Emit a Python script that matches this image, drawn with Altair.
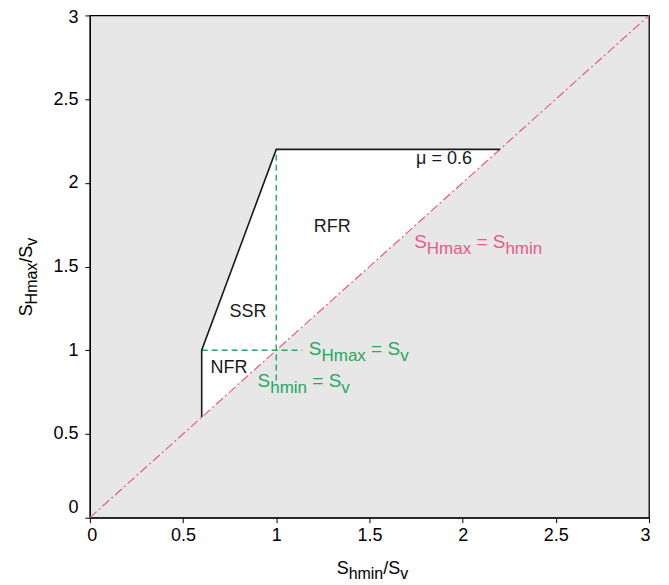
import altair as alt
import pandas as pd

FONT = "Liberation Sans"
PINK = "#eb5a84"
GREEN = "#22aa5e"
BG = "#e6e7e6"
INK = "#1a1a1a"

# ---- data ----
ticks = [0, 0.5, 1, 1.5, 2, 2.5, 3]

poly_x = [0.6, 1.0, 2.2]
poly_upper = [1.0, 2.2, 2.2]
poly_lower = [0.6, 1.0, 2.2]

outline_x = [0.6, 0.6, 1.0, 2.2]
outline_y = [0.6, 1.0, 2.2, 2.2]

diag_x = [0, 3]
diag_y = [0, 3]

vline_x = [1.0]
vline_y = [0.82]
vline_y2 = [2.2]
hline_y = [1.0]
hline_x = [0.6]
hline_x2 = [1.14]

region_text = ["RFR", "SSR", "NFR", "μ = 0.6"]
region_x = [1.30, 0.848, 0.746, 1.90]
region_y = [1.705, 1.20, 0.865, 2.11]

# rich labels: segments = (text, is_subscript, space_before)
pink_label = [("S", False, 0), ("Hmax", True, 0), ("=", False, 1), ("S", False, 1), ("hmin", True, 0)]
pink_pos = (1.74, 1.61)
green_label1 = [("S", False, 0), ("Hmax", True, 0), ("=", False, 1), ("S", False, 1), ("v", True, 0)]
green_pos1 = (1.175, 0.97)
green_label2 = [("S", False, 0), ("hmin", True, 0), ("=", False, 1), ("S", False, 1), ("v", True, 0)]
green_pos2 = (0.90, 0.78)
xtitle = [("S", False, 0), ("hmin", True, 0), ("/S", False, 0), ("v", True, 0)]
ytitle = [("S", False, 0), ("Hmax", True, 0), ("/S", False, 0), ("v", True, 0)]

# ---- helpers ----
WID = {'S': 0.667, 'H': 0.722, 'm': 0.833, 'a': 0.556, 'x': 0.5, 'h': 0.556,
       'i': 0.222, 'n': 0.556, 'v': 0.5, '/': 0.278, ' ': 0.278, '=': 0.584}
SPACE = 0.278


def seg_w(t, size):
    return sum(WID.get(c, 0.556) for c in t) * size


one = pd.DataFrame({"x": [0.0], "y": [0.0]})

sx = alt.Scale(domain=[0, 3], nice=False, zero=False)
sy = alt.Scale(domain=[0, 3], nice=False, zero=False)
ax_x = alt.Axis(values=ticks, format="~g", title=None, grid=False, tickSize=5,
                labelFontSize=18, labelFont=FONT, labelColor="black",
                tickColor="black", domainColor="black", labelPadding=4,
                labelFlush=False,
                labelOffset={"condition": [{"test": "datum.value == 0", "value": 2},
                                           {"test": "datum.value == 3", "value": -4}],
                             "value": 0})
ax_y = alt.Axis(values=ticks, format="~g", title=None, grid=False, tickSize=5,
                labelFontSize=18, labelFont=FONT, labelColor="black",
                tickColor="black", domainColor="black", labelPadding=7,
                labelFlush=False,
                labelOffset={"condition": [{"test": "datum.value == 0", "value": -10},
                                           {"test": "datum.value == 3", "value": 2}],
                             "value": 0})


def X(f="x"):
    return alt.X(f"{f}:Q", scale=sx, axis=ax_x)


def Y(f="y"):
    return alt.Y(f"{f}:Q", scale=sy, axis=ax_y)


def rich(segments, color, main, sub, shift, pos=None, px=None, anchor="left", angle=0):
    total = sum(seg_w(t, sub if s else main) + sp * SPACE * main for t, s, sp in segments)
    off = 0 if anchor == "left" else -total / 2
    layers = []
    for t, s, sp in segments:
        size = sub if s else main
        off += sp * SPACE * main
        kw = dict(text=t, fontSize=size, dx=off, dy=shift if s else 0, align="left",
                  baseline="alphabetic", color=color, font=FONT)
        if angle:
            kw["angle"] = angle
        if pos is not None:
            d = pd.DataFrame({"x": [pos[0]], "y": [pos[1]]})
            m = alt.Chart(d).mark_text(**kw).encode(x=X(), y=Y())
        else:
            m = alt.Chart(one).mark_text(**kw).encode(x=alt.value(px[0]), y=alt.value(px[1]))
        layers.append(m)
        off += seg_w(t, size)
    return layers


# ---- layers ----
poly_df = pd.DataFrame({"x": poly_x, "y": poly_upper, "y2": poly_lower})
area = alt.Chart(poly_df).mark_area(color="white", opacity=1, interpolate="linear").encode(
    x=X(), y=Y(), y2="y2:Q")

diag_df = pd.DataFrame({"x": diag_x, "y": diag_y})
diag = alt.Chart(diag_df).mark_line(color=PINK, strokeWidth=1.2, strokeDash=[9, 3, 2, 3]).encode(
    x=X(), y=Y())

vdf = pd.DataFrame({"x": vline_x, "y": vline_y, "y2": vline_y2})
vline = alt.Chart(vdf).mark_rule(color=GREEN, strokeWidth=1.4, strokeDash=[6, 4]).encode(
    x=X(), y=Y(), y2="y2:Q")
hdf = pd.DataFrame({"x": hline_x, "x2": hline_x2, "y": hline_y})
hline = alt.Chart(hdf).mark_rule(color=GREEN, strokeWidth=1.4, strokeDash=[6, 4]).encode(
    x=X(), x2="x2:Q", y=Y())

odf = pd.DataFrame({"x": outline_x, "y": outline_y, "i": list(range(len(outline_x)))})
outline = alt.Chart(odf).mark_line(color=INK, strokeWidth=1.6).encode(
    x=X(), y=Y(), order=alt.Order("i:Q"))

rdf = pd.DataFrame({"x": region_x, "y": region_y, "t": region_text})
regions = alt.Chart(rdf).mark_text(fontSize=18, font=FONT, color=INK, align="center",
                                   baseline="alphabetic").encode(x=X(), y=Y(), text="t:N")

layers = [area, diag, vline, hline, outline, regions]
layers += rich(pink_label, PINK, 19, 17, 6, pos=pink_pos)
layers += rich(green_label1, GREEN, 19, 17, 6, pos=green_pos1)
layers += rich(green_label2, GREEN, 19, 17, 6, pos=green_pos2)
layers += rich(xtitle, "black", 18, 16, 5, px=(283, 559), anchor="center")
layers += rich(ytitle, "black", 18, 16, 5, px=(-58, 262), anchor="center", angle=270)

chart = alt.layer(*layers).properties(
    width=560, height=503,
    autosize=alt.AutoSizeParams(type="none"),
    padding={"left": 82, "top": 7, "right": 12, "bottom": 66},
).configure_view(fill=BG, stroke="black", strokeWidth=1.3)

chart.save("out.html", embed_options={"renderer": "svg", "actions": False})
